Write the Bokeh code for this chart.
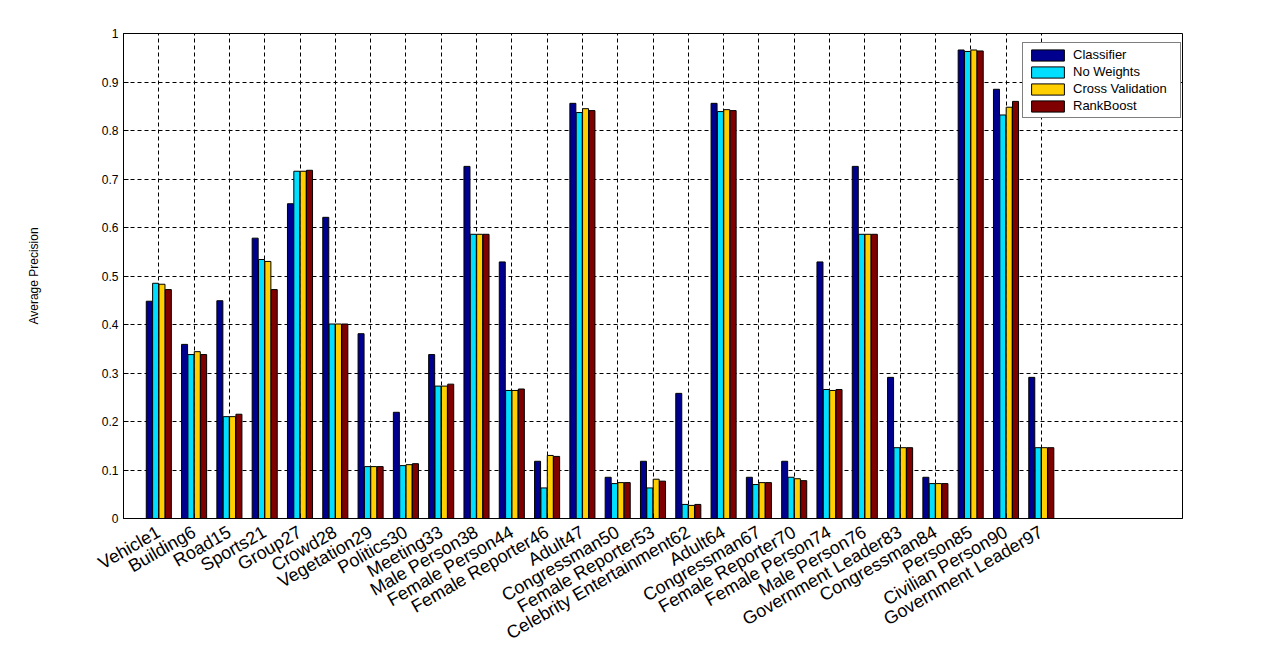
import math
from bokeh.plotting import figure
from bokeh.models import (ColumnDataSource, FixedTicker, Legend, LegendItem,
                          Range1d, NumeralTickFormatter)
from bokeh.transform import dodge
from bokeh.embed import file_html
from bokeh.resources import INLINE

categories = ["Vehicle1", "Building6", "Road15", "Sports21", "Group27", "Crowd28",
              "Vegetation29", "Politics30", "Meeting33", "Male Person38", "Female Person44",
              "Female Reporter46", "Adult47", "Congressman50", "Female Reporter53",
              "Celebrity Entertainment62", "Adult64", "Congressman67", "Female Reporter70",
              "Female Person74", "Male Person76", "Government Leader83", "Congressman84",
              "Person85", "Civilian Person90", "Government Leader97"]

classifier = [0.448, 0.359, 0.449, 0.578, 0.649, 0.621, 0.381, 0.219, 0.338, 0.726, 0.529,
              0.118, 0.856, 0.085, 0.118, 0.258, 0.856, 0.085, 0.118, 0.529, 0.726, 0.291,
              0.085, 0.966, 0.885, 0.291]
no_weights = [0.485, 0.338, 0.210, 0.534, 0.716, 0.401, 0.107, 0.109, 0.273, 0.586, 0.264,
              0.063, 0.837, 0.072, 0.063, 0.029, 0.839, 0.070, 0.085, 0.266, 0.586, 0.146,
              0.072, 0.963, 0.832, 0.146]
cross_validation = [0.483, 0.344, 0.210, 0.530, 0.716, 0.401, 0.107, 0.111, 0.273, 0.586, 0.264,
                    0.130, 0.845, 0.074, 0.081, 0.027, 0.843, 0.074, 0.082, 0.264, 0.586, 0.146,
                    0.072, 0.966, 0.848, 0.146]
rankboost = [0.472, 0.338, 0.215, 0.472, 0.718, 0.401, 0.107, 0.113, 0.277, 0.586, 0.267,
             0.128, 0.841, 0.074, 0.077, 0.029, 0.841, 0.074, 0.078, 0.266, 0.586, 0.146,
             0.072, 0.964, 0.860, 0.146]

series_names = ["Classifier", "No Weights", "Cross Validation", "RankBoost"]
series_keys = ["classifier", "no_weights", "cross_validation", "rankboost"]
colors = ["#00008F", "#00DFFF", "#FFCF00", "#800000"]
offsets = [-0.27, -0.09, 0.09, 0.27]

y_ticks = [0, 0.1, 0.2, 0.3, 0.4, 0.5, 0.6, 0.7, 0.8, 0.9, 1]
x_pos = list(range(1, len(categories) + 1))

src = ColumnDataSource(dict(x=x_pos, classifier=classifier, no_weights=no_weights,
                            cross_validation=cross_validation, rankboost=rankboost))

FONT = "Liberation Sans"

p = figure(width=1264, height=655, x_range=Range1d(0, 30), y_range=Range1d(0, 1),
           output_backend="svg", toolbar_location=None,
           min_border_left=123, min_border_right=82, min_border_top=33, min_border_bottom=137)
p.background_fill_color = "white"
p.border_fill_color = "white"
p.outline_line_color = "black"
p.outline_line_width = 1

items = []
for key, name, col, off in zip(series_keys, series_names, colors, offsets):
    r = p.vbar(x=dodge("x", off, range=p.x_range), top=key, width=0.17, bottom=0,
               source=src, fill_color=col, line_color="black", line_width=1)
    items.append(LegendItem(label=name, renderers=[r]))

xt = FixedTicker(ticks=x_pos)
yt = FixedTicker(ticks=y_ticks)

# x axis
xa = p.xaxis[0]
xa.ticker = xt
xa.major_label_overrides = {i: c for i, c in zip(x_pos, categories)}
xa.major_label_orientation = math.pi / 6
xa.major_label_text_font = FONT
xa.major_label_text_font_size = "18px"
xa.major_label_text_color = "black"
xa.major_label_standoff = 12
xa.major_tick_in = 5
xa.major_tick_out = 0
xa.minor_tick_line_color = None
xa.axis_line_color = "black"

# y axis
ya = p.yaxis[0]
ya.ticker = yt
ya.formatter = NumeralTickFormatter(format="0.[0]")
ya.major_label_text_font = FONT
ya.major_label_text_font_size = "12px"
ya.major_label_text_color = "black"
ya.major_label_standoff = 5
ya.major_tick_in = 5
ya.major_tick_out = 0
ya.minor_tick_line_color = None
ya.axis_line_color = "black"
ya.axis_label = "Average Precision"
ya.axis_label_text_font = FONT
ya.axis_label_text_font_size = "12px"
ya.axis_label_text_font_style = "normal"
ya.axis_label_text_color = "black"
ya.axis_label_standoff = 58

# grids
for g, t in ((p.xgrid[0], xt), (p.ygrid[0], yt)):
    g.ticker = t
    g.grid_line_color = "black"
    g.grid_line_dash = "4 3"
    g.grid_line_width = 1
    g.grid_line_alpha = 1.0

legend = Legend(items=items, location=(899, 400), padding=4, spacing=2, margin=0,
                glyph_width=41, glyph_height=14, label_height=14, label_width=103,
                label_standoff=5, label_text_font=FONT, label_text_font_size="13px",
                label_text_color="black", border_line_color="black", border_line_width=1,
                background_fill_color="white", background_fill_alpha=1.0)
p.add_layout(legend, "center")

open("out.html", "w").write(file_html(p, INLINE))
